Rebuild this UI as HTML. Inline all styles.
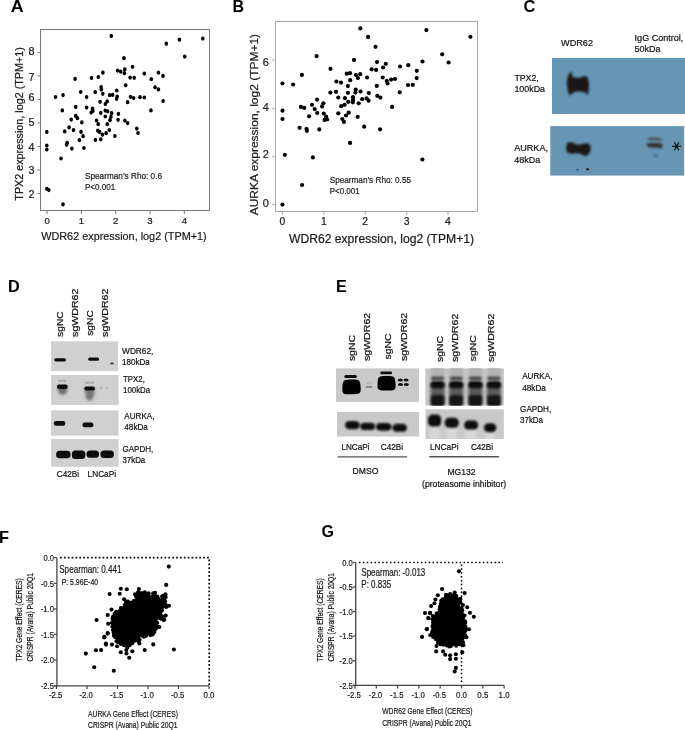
<!DOCTYPE html>
<html><head><meta charset="utf-8"><style>
html,body{margin:0;padding:0;background:#fff;}
svg{display:block;font-family:"Liberation Sans", sans-serif;}
</style></head><body>
<svg width="685" height="730" viewBox="0 0 685 730">
<defs>
<clipPath id="cp1"><rect x="51.1" y="375" width="67.5" height="30"/></clipPath><clipPath id="cp2"><rect x="335.9" y="368.2" width="83.1" height="33.7"/></clipPath><clipPath id="cp3"><rect x="336.9" y="412" width="82.1" height="24.7"/></clipPath><clipPath id="cp4"><rect x="425.2" y="368.3" width="78.7" height="37.4"/></clipPath><clipPath id="cp5"><rect x="425.3" y="409.2" width="78.6" height="29.8"/></clipPath>
<filter id="gs" x="0" y="0" width="100%" height="100%" filterUnits="userSpaceOnUse"><feColorMatrix type="saturate" values="0"/></filter>
<filter id="b1" x="-30%" y="-60%" width="160%" height="220%"><feGaussianBlur stdDeviation="0.6"/></filter>
<filter id="b15" x="-30%" y="-60%" width="160%" height="220%"><feGaussianBlur stdDeviation="0.85"/></filter>
<filter id="b2" x="-30%" y="-30%" width="160%" height="160%"><feGaussianBlur stdDeviation="1.6"/></filter>
</defs>
<rect width="685" height="730" fill="#fff"/>
<rect x="40.5" y="29.5" width="169" height="181" fill="none" stroke="#777" stroke-width="1"/>
<line x1="37.5" y1="193.5" x2="40.5" y2="193.5" stroke="#777" stroke-width="1"/>
<line x1="37.5" y1="170.0" x2="40.5" y2="170.0" stroke="#777" stroke-width="1"/>
<line x1="37.5" y1="146.5" x2="40.5" y2="146.5" stroke="#777" stroke-width="1"/>
<line x1="37.5" y1="122.9" x2="40.5" y2="122.9" stroke="#777" stroke-width="1"/>
<line x1="37.5" y1="99.4" x2="40.5" y2="99.4" stroke="#777" stroke-width="1"/>
<line x1="37.5" y1="75.9" x2="40.5" y2="75.9" stroke="#777" stroke-width="1"/>
<line x1="37.5" y1="52.4" x2="40.5" y2="52.4" stroke="#777" stroke-width="1"/>
<line x1="47.1" y1="210.5" x2="47.1" y2="214" stroke="#777" stroke-width="1"/>
<line x1="81.4" y1="210.5" x2="81.4" y2="214" stroke="#777" stroke-width="1"/>
<line x1="115.7" y1="210.5" x2="115.7" y2="214" stroke="#777" stroke-width="1"/>
<line x1="150.0" y1="210.5" x2="150.0" y2="214" stroke="#777" stroke-width="1"/>
<line x1="184.3" y1="210.5" x2="184.3" y2="214" stroke="#777" stroke-width="1"/>
<ellipse cx="111.3" cy="35.9" rx="1.8" ry="2.1" fill="#000"/>
<ellipse cx="123.9" cy="58.2" rx="1.8" ry="2.1" fill="#000"/>
<ellipse cx="75.1" cy="78.9" rx="1.8" ry="2.1" fill="#000"/>
<ellipse cx="91.5" cy="78.0" rx="1.8" ry="2.1" fill="#000"/>
<ellipse cx="98.3" cy="77.0" rx="1.8" ry="2.1" fill="#000"/>
<ellipse cx="102.9" cy="72.7" rx="1.8" ry="2.1" fill="#000"/>
<ellipse cx="117.6" cy="70.6" rx="1.8" ry="2.1" fill="#000"/>
<ellipse cx="120.7" cy="71.6" rx="1.8" ry="2.1" fill="#000"/>
<ellipse cx="166.3" cy="43.7" rx="1.8" ry="2.1" fill="#000"/>
<ellipse cx="179.4" cy="39.7" rx="1.8" ry="2.1" fill="#000"/>
<ellipse cx="202.8" cy="38.6" rx="1.8" ry="2.1" fill="#000"/>
<ellipse cx="184.7" cy="56.6" rx="1.8" ry="2.1" fill="#000"/>
<ellipse cx="132.5" cy="66.8" rx="1.8" ry="2.1" fill="#000"/>
<ellipse cx="124.8" cy="69.4" rx="1.8" ry="2.1" fill="#000"/>
<ellipse cx="124.4" cy="73.2" rx="1.8" ry="2.1" fill="#000"/>
<ellipse cx="130.1" cy="77.6" rx="1.8" ry="2.1" fill="#000"/>
<ellipse cx="134.2" cy="77.8" rx="1.8" ry="2.1" fill="#000"/>
<ellipse cx="144.3" cy="73.6" rx="1.8" ry="2.1" fill="#000"/>
<ellipse cx="158.4" cy="72.6" rx="1.8" ry="2.1" fill="#000"/>
<ellipse cx="163.0" cy="75.9" rx="1.8" ry="2.1" fill="#000"/>
<ellipse cx="151.3" cy="79.2" rx="1.8" ry="2.1" fill="#000"/>
<ellipse cx="125.7" cy="85.3" rx="1.8" ry="2.1" fill="#000"/>
<ellipse cx="155.1" cy="87.3" rx="1.8" ry="2.1" fill="#000"/>
<ellipse cx="158.4" cy="89.4" rx="1.8" ry="2.1" fill="#000"/>
<ellipse cx="55.5" cy="97.1" rx="1.8" ry="2.1" fill="#000"/>
<ellipse cx="63.0" cy="95.1" rx="1.8" ry="2.1" fill="#000"/>
<ellipse cx="80.7" cy="92.0" rx="1.8" ry="2.1" fill="#000"/>
<ellipse cx="86.6" cy="97.1" rx="1.8" ry="2.1" fill="#000"/>
<ellipse cx="95.2" cy="92.2" rx="1.8" ry="2.1" fill="#000"/>
<ellipse cx="101.1" cy="87.0" rx="1.8" ry="2.1" fill="#000"/>
<ellipse cx="101.3" cy="89.6" rx="1.8" ry="2.1" fill="#000"/>
<ellipse cx="102.8" cy="93.8" rx="1.8" ry="2.1" fill="#000"/>
<ellipse cx="109.6" cy="95.2" rx="1.8" ry="2.1" fill="#000"/>
<ellipse cx="112.6" cy="94.9" rx="1.8" ry="2.1" fill="#000"/>
<ellipse cx="116.8" cy="90.5" rx="1.8" ry="2.1" fill="#000"/>
<ellipse cx="117.2" cy="96.6" rx="1.8" ry="2.1" fill="#000"/>
<ellipse cx="116.6" cy="98.8" rx="1.8" ry="2.1" fill="#000"/>
<ellipse cx="127.6" cy="102.2" rx="1.8" ry="2.1" fill="#000"/>
<ellipse cx="100.1" cy="101.8" rx="1.8" ry="2.1" fill="#000"/>
<ellipse cx="107.2" cy="101.4" rx="1.8" ry="2.1" fill="#000"/>
<ellipse cx="105.3" cy="104.1" rx="1.8" ry="2.1" fill="#000"/>
<ellipse cx="62.3" cy="110.4" rx="1.8" ry="2.1" fill="#000"/>
<ellipse cx="75.7" cy="106.9" rx="1.8" ry="2.1" fill="#000"/>
<ellipse cx="86.6" cy="107.6" rx="1.8" ry="2.1" fill="#000"/>
<ellipse cx="92.5" cy="108.7" rx="1.8" ry="2.1" fill="#000"/>
<ellipse cx="92.9" cy="110.9" rx="1.8" ry="2.1" fill="#000"/>
<ellipse cx="91.2" cy="112.6" rx="1.8" ry="2.1" fill="#000"/>
<ellipse cx="100.8" cy="112.9" rx="1.8" ry="2.1" fill="#000"/>
<ellipse cx="105.3" cy="110.6" rx="1.8" ry="2.1" fill="#000"/>
<ellipse cx="107.6" cy="111.3" rx="1.8" ry="2.1" fill="#000"/>
<ellipse cx="111.6" cy="113.2" rx="1.8" ry="2.1" fill="#000"/>
<ellipse cx="105.3" cy="116.5" rx="1.8" ry="2.1" fill="#000"/>
<ellipse cx="110.9" cy="116.9" rx="1.8" ry="2.1" fill="#000"/>
<ellipse cx="118.4" cy="113.9" rx="1.8" ry="2.1" fill="#000"/>
<ellipse cx="118.1" cy="119.8" rx="1.8" ry="2.1" fill="#000"/>
<ellipse cx="124.8" cy="120.6" rx="1.8" ry="2.1" fill="#000"/>
<ellipse cx="127.6" cy="123.1" rx="1.8" ry="2.1" fill="#000"/>
<ellipse cx="71.2" cy="119.6" rx="1.8" ry="2.1" fill="#000"/>
<ellipse cx="75.7" cy="115.9" rx="1.8" ry="2.1" fill="#000"/>
<ellipse cx="77.4" cy="118.2" rx="1.8" ry="2.1" fill="#000"/>
<ellipse cx="81.8" cy="122.4" rx="1.8" ry="2.1" fill="#000"/>
<ellipse cx="96.5" cy="120.5" rx="1.8" ry="2.1" fill="#000"/>
<ellipse cx="98.2" cy="124.2" rx="1.8" ry="2.1" fill="#000"/>
<ellipse cx="110.0" cy="120.2" rx="1.8" ry="2.1" fill="#000"/>
<ellipse cx="107.2" cy="124.2" rx="1.8" ry="2.1" fill="#000"/>
<ellipse cx="69.1" cy="127.4" rx="1.8" ry="2.1" fill="#000"/>
<ellipse cx="73.5" cy="130.1" rx="1.8" ry="2.1" fill="#000"/>
<ellipse cx="64.7" cy="131.4" rx="1.8" ry="2.1" fill="#000"/>
<ellipse cx="46.8" cy="131.9" rx="1.8" ry="2.1" fill="#000"/>
<ellipse cx="81.0" cy="131.9" rx="1.8" ry="2.1" fill="#000"/>
<ellipse cx="83.1" cy="136.2" rx="1.8" ry="2.1" fill="#000"/>
<ellipse cx="79.4" cy="140.2" rx="1.8" ry="2.1" fill="#000"/>
<ellipse cx="97.8" cy="130.7" rx="1.8" ry="2.1" fill="#000"/>
<ellipse cx="99.5" cy="131.9" rx="1.8" ry="2.1" fill="#000"/>
<ellipse cx="102.4" cy="134.7" rx="1.8" ry="2.1" fill="#000"/>
<ellipse cx="106.1" cy="133.2" rx="1.8" ry="2.1" fill="#000"/>
<ellipse cx="109.3" cy="130.1" rx="1.8" ry="2.1" fill="#000"/>
<ellipse cx="114.9" cy="136.0" rx="1.8" ry="2.1" fill="#000"/>
<ellipse cx="95.4" cy="139.9" rx="1.8" ry="2.1" fill="#000"/>
<ellipse cx="100.8" cy="139.3" rx="1.8" ry="2.1" fill="#000"/>
<ellipse cx="67.2" cy="142.8" rx="1.8" ry="2.1" fill="#000"/>
<ellipse cx="66.6" cy="144.8" rx="1.8" ry="2.1" fill="#000"/>
<ellipse cx="46.8" cy="145.5" rx="1.8" ry="2.1" fill="#000"/>
<ellipse cx="46.8" cy="149.5" rx="1.8" ry="2.1" fill="#000"/>
<ellipse cx="71.9" cy="148.6" rx="1.8" ry="2.1" fill="#000"/>
<ellipse cx="83.9" cy="148.0" rx="1.8" ry="2.1" fill="#000"/>
<ellipse cx="130.5" cy="96.8" rx="1.8" ry="2.1" fill="#000"/>
<ellipse cx="133.6" cy="98.1" rx="1.8" ry="2.1" fill="#000"/>
<ellipse cx="140.0" cy="97.2" rx="1.8" ry="2.1" fill="#000"/>
<ellipse cx="144.3" cy="97.5" rx="1.8" ry="2.1" fill="#000"/>
<ellipse cx="163.1" cy="101.0" rx="1.8" ry="2.1" fill="#000"/>
<ellipse cx="150.9" cy="110.4" rx="1.8" ry="2.1" fill="#000"/>
<ellipse cx="136.8" cy="128.6" rx="1.8" ry="2.1" fill="#000"/>
<ellipse cx="138.0" cy="133.0" rx="1.8" ry="2.1" fill="#000"/>
<ellipse cx="61.0" cy="158.5" rx="1.8" ry="2.1" fill="#000"/>
<ellipse cx="46.8" cy="188.8" rx="1.8" ry="2.1" fill="#000"/>
<ellipse cx="48.8" cy="190.1" rx="1.8" ry="2.1" fill="#000"/>
<ellipse cx="63.0" cy="204.4" rx="1.8" ry="2.1" fill="#000"/>
<rect x="275.5" y="21.5" width="202" height="190" fill="none" stroke="#aaa" stroke-width="1"/>
<line x1="272" y1="204.4" x2="275.5" y2="204.4" stroke="#aaa" stroke-width="1"/>
<line x1="272" y1="156.3" x2="275.5" y2="156.3" stroke="#aaa" stroke-width="1"/>
<line x1="272" y1="108.2" x2="275.5" y2="108.2" stroke="#aaa" stroke-width="1"/>
<line x1="272" y1="60.1" x2="275.5" y2="60.1" stroke="#aaa" stroke-width="1"/>
<line x1="282.4" y1="211.5" x2="282.4" y2="215" stroke="#aaa" stroke-width="1"/>
<line x1="323.8" y1="211.5" x2="323.8" y2="215" stroke="#aaa" stroke-width="1"/>
<line x1="365.2" y1="211.5" x2="365.2" y2="215" stroke="#aaa" stroke-width="1"/>
<line x1="406.6" y1="211.5" x2="406.6" y2="215" stroke="#aaa" stroke-width="1"/>
<line x1="448.0" y1="211.5" x2="448.0" y2="215" stroke="#aaa" stroke-width="1"/>
<circle cx="316.6" cy="56.1" r="2.1" fill="#000"/>
<circle cx="330.5" cy="68.8" r="2.1" fill="#000"/>
<circle cx="301.9" cy="74.9" r="2.1" fill="#000"/>
<circle cx="282.5" cy="83.5" r="2.1" fill="#000"/>
<circle cx="293.1" cy="84.5" r="2.1" fill="#000"/>
<circle cx="336.4" cy="81.5" r="2.1" fill="#000"/>
<circle cx="341.0" cy="82.6" r="2.1" fill="#000"/>
<circle cx="360.3" cy="28.4" r="2.1" fill="#000"/>
<circle cx="368.1" cy="36.9" r="2.1" fill="#000"/>
<circle cx="375.5" cy="46.8" r="2.1" fill="#000"/>
<circle cx="354.0" cy="59.9" r="2.1" fill="#000"/>
<circle cx="377.0" cy="62.1" r="2.1" fill="#000"/>
<circle cx="385.8" cy="63.8" r="2.1" fill="#000"/>
<circle cx="383.1" cy="67.5" r="2.1" fill="#000"/>
<circle cx="400.0" cy="66.5" r="2.1" fill="#000"/>
<circle cx="408.3" cy="65.2" r="2.1" fill="#000"/>
<circle cx="371.7" cy="69.3" r="2.1" fill="#000"/>
<circle cx="376.1" cy="69.9" r="2.1" fill="#000"/>
<circle cx="346.7" cy="73.7" r="2.1" fill="#000"/>
<circle cx="350.0" cy="73.2" r="2.1" fill="#000"/>
<circle cx="355.9" cy="75.0" r="2.1" fill="#000"/>
<circle cx="360.2" cy="74.2" r="2.1" fill="#000"/>
<circle cx="357.9" cy="78.0" r="2.1" fill="#000"/>
<circle cx="367.1" cy="77.5" r="2.1" fill="#000"/>
<circle cx="350.2" cy="80.2" r="2.1" fill="#000"/>
<circle cx="382.7" cy="77.5" r="2.1" fill="#000"/>
<circle cx="386.8" cy="80.8" r="2.1" fill="#000"/>
<circle cx="391.1" cy="79.6" r="2.1" fill="#000"/>
<circle cx="395.0" cy="79.0" r="2.1" fill="#000"/>
<circle cx="387.6" cy="83.5" r="2.1" fill="#000"/>
<circle cx="426.4" cy="30.1" r="2.1" fill="#000"/>
<circle cx="470.4" cy="36.8" r="2.1" fill="#000"/>
<circle cx="442.2" cy="54.3" r="2.1" fill="#000"/>
<circle cx="448.6" cy="62.5" r="2.1" fill="#000"/>
<circle cx="422.5" cy="61.5" r="2.1" fill="#000"/>
<circle cx="416.8" cy="70.8" r="2.1" fill="#000"/>
<circle cx="416.7" cy="78.1" r="2.1" fill="#000"/>
<circle cx="408.0" cy="85.0" r="2.1" fill="#000"/>
<circle cx="412.8" cy="84.8" r="2.1" fill="#000"/>
<circle cx="330.4" cy="92.6" r="2.1" fill="#000"/>
<circle cx="336.0" cy="91.8" r="2.1" fill="#000"/>
<circle cx="338.3" cy="97.5" r="2.1" fill="#000"/>
<circle cx="317.1" cy="99.6" r="2.1" fill="#000"/>
<circle cx="312.0" cy="104.8" r="2.1" fill="#000"/>
<circle cx="323.4" cy="103.3" r="2.1" fill="#000"/>
<circle cx="322.1" cy="106.4" r="2.1" fill="#000"/>
<circle cx="300.9" cy="106.9" r="2.1" fill="#000"/>
<circle cx="304.2" cy="107.9" r="2.1" fill="#000"/>
<circle cx="314.7" cy="109.1" r="2.1" fill="#000"/>
<circle cx="282.5" cy="110.7" r="2.1" fill="#000"/>
<circle cx="317.2" cy="113.0" r="2.1" fill="#000"/>
<circle cx="323.8" cy="113.5" r="2.1" fill="#000"/>
<circle cx="326.1" cy="116.5" r="2.1" fill="#000"/>
<circle cx="324.6" cy="119.9" r="2.1" fill="#000"/>
<circle cx="327.2" cy="119.5" r="2.1" fill="#000"/>
<circle cx="338.3" cy="113.3" r="2.1" fill="#000"/>
<circle cx="341.2" cy="106.2" r="2.1" fill="#000"/>
<circle cx="342.3" cy="119.0" r="2.1" fill="#000"/>
<circle cx="282.5" cy="119.0" r="2.1" fill="#000"/>
<circle cx="309.1" cy="116.3" r="2.1" fill="#000"/>
<circle cx="299.6" cy="127.8" r="2.1" fill="#000"/>
<circle cx="306.5" cy="128.8" r="2.1" fill="#000"/>
<circle cx="306.9" cy="130.8" r="2.1" fill="#000"/>
<circle cx="319.3" cy="129.4" r="2.1" fill="#000"/>
<circle cx="347.9" cy="86.1" r="2.1" fill="#000"/>
<circle cx="376.8" cy="85.9" r="2.1" fill="#000"/>
<circle cx="355.7" cy="89.5" r="2.1" fill="#000"/>
<circle cx="355.4" cy="92.6" r="2.1" fill="#000"/>
<circle cx="360.5" cy="91.5" r="2.1" fill="#000"/>
<circle cx="347.9" cy="92.8" r="2.1" fill="#000"/>
<circle cx="368.8" cy="93.0" r="2.1" fill="#000"/>
<circle cx="399.8" cy="92.3" r="2.1" fill="#000"/>
<circle cx="344.9" cy="98.2" r="2.1" fill="#000"/>
<circle cx="353.0" cy="97.2" r="2.1" fill="#000"/>
<circle cx="353.0" cy="100.2" r="2.1" fill="#000"/>
<circle cx="352.8" cy="102.3" r="2.1" fill="#000"/>
<circle cx="348.2" cy="101.8" r="2.1" fill="#000"/>
<circle cx="358.7" cy="103.3" r="2.1" fill="#000"/>
<circle cx="362.2" cy="99.2" r="2.1" fill="#000"/>
<circle cx="366.6" cy="98.4" r="2.1" fill="#000"/>
<circle cx="368.6" cy="100.7" r="2.1" fill="#000"/>
<circle cx="377.3" cy="95.8" r="2.1" fill="#000"/>
<circle cx="380.4" cy="97.6" r="2.1" fill="#000"/>
<circle cx="392.1" cy="106.9" r="2.1" fill="#000"/>
<circle cx="344.6" cy="104.8" r="2.1" fill="#000"/>
<circle cx="348.7" cy="112.7" r="2.1" fill="#000"/>
<circle cx="346.0" cy="115.5" r="2.1" fill="#000"/>
<circle cx="343.9" cy="121.9" r="2.1" fill="#000"/>
<circle cx="357.7" cy="116.8" r="2.1" fill="#000"/>
<circle cx="364.2" cy="126.7" r="2.1" fill="#000"/>
<circle cx="380.1" cy="129.3" r="2.1" fill="#000"/>
<circle cx="350.1" cy="142.9" r="2.1" fill="#000"/>
<circle cx="284.8" cy="154.8" r="2.1" fill="#000"/>
<circle cx="312.9" cy="157.4" r="2.1" fill="#000"/>
<circle cx="302.1" cy="185.0" r="2.1" fill="#000"/>
<circle cx="282.5" cy="204.6" r="2.1" fill="#000"/>
<circle cx="422.4" cy="159.5" r="2.1" fill="#000"/>
<rect x="552" y="57.9" width="133" height="56.1" fill="#6696b4"/>
<rect x="550.3" y="126.1" width="133.9" height="49.5" fill="#6696b4"/>
<path d="M571.50,72.00 C571.93,72.60 571.60,75.62 572.60,76.60 C573.60,77.58 575.85,77.83 577.50,77.90 C579.15,77.97 581.35,77.42 582.50,77.00 C583.65,76.58 583.92,75.48 584.40,75.40 C584.88,75.32 584.83,76.13 585.40,76.50 C585.97,76.87 587.22,76.40 587.80,77.60 C588.38,78.80 588.80,81.30 588.90,83.70 C589.00,86.10 588.65,90.18 588.40,92.00 C588.15,93.82 588.05,94.55 587.40,94.60 C586.75,94.65 585.85,92.80 584.50,92.30 C583.15,91.80 580.95,91.65 579.30,91.60 C577.65,91.55 576.22,91.43 574.60,92.00 C572.98,92.57 570.70,95.22 569.60,95.00 C568.50,94.78 568.43,92.58 568.00,90.70 C567.57,88.82 567.03,86.02 567.00,83.70 C566.97,81.38 567.30,78.58 567.80,76.80 C568.30,75.02 569.38,73.80 570.00,73.00 C570.62,72.20 571.07,71.40 571.50,72.00 Z" fill="#1c1917" filter="url(#b15)"/>
<line x1="569.8" y1="94" x2="569.8" y2="97.5" stroke="#3a5a70" stroke-width="0.6" opacity="0.6"/>
<line x1="587.2" y1="94" x2="587.2" y2="97" stroke="#3a5a70" stroke-width="0.6" opacity="0.6"/>
<path d="M568.80,142.30 C569.55,142.10 570.25,142.22 571.70,142.60 C573.15,142.98 575.55,144.40 577.50,144.60 C579.45,144.80 581.65,143.98 583.40,143.80 C585.15,143.62 586.80,143.02 588.00,143.50 C589.20,143.98 590.22,145.48 590.60,146.70 C590.98,147.92 590.63,149.53 590.30,150.80 C589.97,152.07 589.37,153.45 588.60,154.30 C587.83,155.15 586.57,155.77 585.70,155.90 C584.83,156.03 584.77,155.55 583.40,155.10 C582.03,154.65 579.45,153.43 577.50,153.20 C575.55,152.97 573.15,153.72 571.70,153.70 C570.25,153.68 569.67,153.58 568.80,153.10 C567.93,152.62 566.90,151.77 566.50,150.80 C566.10,149.83 566.28,148.47 566.40,147.30 C566.52,146.13 566.80,144.63 567.20,143.80 C567.60,142.97 568.05,142.50 568.80,142.30 Z" fill="#1c1917" filter="url(#b15)"/>
<ellipse cx="577.5" cy="169.9" rx="1.1" ry="0.8" fill="#2e4d63" filter="url(#b1)"/>
<ellipse cx="587.7" cy="169.2" rx="1.6" ry="1.3" fill="#3a2a25" filter="url(#b1)"/>
<path d="M648,138.0 Q655,137.0 662,139.0 L661.5,140.4 Q655,139.8 648.3,140.2 Z" fill="#4a3f3f" filter="url(#b15)"/>
<path d="M647,143.2 Q655,142.4 662.2,143.4 L662.8,147.5 Q660,148.8 656,147.6 Q651,147.8 647.2,147.0 Z" fill="#3a3232" filter="url(#b15)"/>
<ellipse cx="655.8" cy="155.6" rx="2.6" ry="1.5" fill="#4f7189" filter="url(#b15)"/>
<path d="M676.60,146.30 L680.70,146.30 M676.60,146.30 L678.65,149.85 M676.60,146.30 L674.55,149.85 M676.60,146.30 L672.50,146.30 M676.60,146.30 L674.55,142.75 M676.60,146.30 L678.65,142.75" stroke="#151515" stroke-width="1.25" stroke-linecap="round" fill="none"/>
<rect x="51.1" y="341.4" width="66.9" height="29.8" fill="#d0d0d0"/>
<rect x="51.1" y="375" width="67.5" height="30" fill="#d0d0d0"/>
<rect x="51.1" y="410.3" width="67.5" height="25.3" fill="#d0d0d0"/>
<rect x="51.1" y="439.1" width="67.5" height="27.7" fill="#d0d0d0"/>
<rect x="54.3" y="358.3" width="11.7" height="3.2" rx="1.5" fill="#111" filter="url(#b1)"/>
<rect x="88.2" y="357.6" width="10.8" height="3.2" rx="1.5" fill="#111" filter="url(#b1)"/>
<ellipse cx="112" cy="363.5" rx="2" ry="1" fill="#444" filter="url(#b1)"/>
<g clip-path="url(#cp1)">
<rect x="58" y="379.8" width="8" height="1.8" fill="#a8a8a8" filter="url(#b1)"/>
<path d="M57.5,386 L67.4,386 L66.5,393 L63,395 L59,393.5 Z" fill="#6a6a6a" filter="url(#b2)"/>
<rect x="57" y="384.6" width="10.6" height="4.4" rx="2" fill="#101010" filter="url(#b1)"/>
<rect x="85" y="381.8" width="9" height="1.8" fill="#aaa" filter="url(#b1)"/>
<path d="M84.5,388 L95,388 L94,396 L91,401 L86,399 Z" fill="#777" filter="url(#b2)"/>
<rect x="84.2" y="386.4" width="10.8" height="4.2" rx="2" fill="#101010" filter="url(#b1)"/>
<ellipse cx="101.1" cy="387.9" rx="1.2" ry="0.8" fill="#aaa" filter="url(#b1)"/>
<ellipse cx="106.7" cy="387.9" rx="1.2" ry="0.8" fill="#aaa" filter="url(#b1)"/>
</g>
<rect x="53.8" y="421" width="11.6" height="4.7" rx="2.3" fill="#0d0d0d" filter="url(#b1)"/>
<rect x="82.4" y="422.6" width="11.1" height="4.6" rx="2.3" fill="#0d0d0d" filter="url(#b1)"/>
<rect x="56.1" y="450.8" width="14.4" height="7.4" rx="3.5" fill="#0a0a0a" filter="url(#b1)"/>
<rect x="71.9" y="450.5" width="13.4" height="8.5" rx="3.5" fill="#0a0a0a" filter="url(#b1)"/>
<rect x="86.5" y="450.5" width="12.5" height="7.3" rx="3.5" fill="#0a0a0a" filter="url(#b1)"/>
<rect x="100.5" y="450.5" width="13.4" height="7.5" rx="3.5" fill="#0a0a0a" filter="url(#b1)"/>
<g clip-path="url(#cp2)">
<rect x="335.9" y="368.2" width="83.1" height="33.7" fill="#c9c9c9"/>
<rect x="344.3" y="374.9" width="12.6" height="3.1" rx="1.5" fill="#111" filter="url(#b1)"/>
<path d="M344.20,380.60 C345.72,379.33 349.07,379.43 351.50,379.40 C353.93,379.37 357.28,379.22 358.80,380.40 C360.32,381.58 360.47,384.40 360.60,386.50 C360.73,388.60 361.12,391.70 359.60,393.00 C358.08,394.30 354.17,394.23 351.50,394.30 C348.83,394.37 345.12,394.62 343.60,393.40 C342.08,392.18 342.30,389.13 342.40,387.00 C342.50,384.87 342.68,381.87 344.20,380.60 Z" fill="#050505" filter="url(#b1)"/>
<rect x="365.5" y="386.1" width="7" height="2" rx="1" fill="#8a8a8a" filter="url(#b1)"/>
<rect x="366.5" y="382.4" width="5" height="1.1" rx="0.5" fill="#aaa" filter="url(#b1)"/>
<rect x="380.2" y="371.5" width="11.9" height="2.8" rx="1.4" fill="#111" filter="url(#b1)"/>
<path d="M379.20,376.90 C380.68,375.72 384.07,375.90 386.50,375.90 C388.93,375.90 392.32,375.72 393.80,376.90 C395.28,378.08 395.27,380.88 395.40,383.00 C395.53,385.12 396.08,388.33 394.60,389.60 C393.12,390.87 389.17,390.60 386.50,390.60 C383.83,390.60 380.08,390.87 378.60,389.60 C377.12,388.33 377.50,385.12 377.60,383.00 C377.70,380.88 377.72,378.08 379.20,376.90 Z" fill="#050505" filter="url(#b1)"/>
<ellipse cx="400.3" cy="380.1" rx="2.6" ry="1.5" fill="#151515" filter="url(#b1)"/>
<ellipse cx="406.0" cy="380.1" rx="2.6" ry="1.5" fill="#151515" filter="url(#b1)"/>
<ellipse cx="400.5" cy="384.6" rx="2.6" ry="1.5" fill="#151515" filter="url(#b1)"/>
<ellipse cx="406.3" cy="384.6" rx="2.6" ry="1.5" fill="#151515" filter="url(#b1)"/>
</g>
<g clip-path="url(#cp3)">
<rect x="336.9" y="412" width="82.1" height="24.7" fill="#c9c9c9"/>
<rect x="345" y="421" width="14.8" height="8.3" rx="4.5" fill="#0a0a0a" filter="url(#b15)"/>
<rect x="360.2" y="422.8" width="14.9" height="7.2" rx="4.5" fill="#0a0a0a" filter="url(#b15)"/>
<rect x="375.8" y="423.1" width="15.9" height="7.6" rx="4.5" fill="#0a0a0a" filter="url(#b15)"/>
<rect x="392.4" y="423.8" width="14.6" height="8.0" rx="4.5" fill="#0a0a0a" filter="url(#b15)"/>
</g>
<g clip-path="url(#cp4)">
<rect x="425.2" y="368.3" width="78.7" height="37.4" fill="#c6c6c6"/>
<rect x="431.1" y="364" width="13" height="14" fill="#b2b2b2" filter="url(#b2)"/>
<rect x="430.6" y="384" width="14" height="14" fill="#5a5a5a" filter="url(#b2)"/>
<rect x="431.1" y="376.6" width="13" height="3.6" rx="1.5" fill="#4a4a4a" filter="url(#b15)"/>
<rect x="430.4" y="381.0" width="14.4" height="7.2" rx="3.5" fill="#0c0c0c" filter="url(#b15)"/>
<rect x="430.4" y="395.0" width="14.4" height="12" rx="4" fill="#141414" filter="url(#b15)"/>
<rect x="449.7" y="364" width="13" height="14" fill="#b2b2b2" filter="url(#b2)"/>
<rect x="449.2" y="384" width="14" height="14" fill="#5a5a5a" filter="url(#b2)"/>
<rect x="449.7" y="376.6" width="13" height="3.6" rx="1.5" fill="#4a4a4a" filter="url(#b15)"/>
<rect x="449.0" y="381.0" width="14.4" height="7.2" rx="3.5" fill="#0c0c0c" filter="url(#b15)"/>
<rect x="449.0" y="395.0" width="14.4" height="12" rx="4" fill="#141414" filter="url(#b15)"/>
<rect x="468.9" y="364" width="13" height="14" fill="#b2b2b2" filter="url(#b2)"/>
<rect x="468.4" y="384" width="14" height="14" fill="#5a5a5a" filter="url(#b2)"/>
<rect x="468.9" y="376.6" width="13" height="3.6" rx="1.5" fill="#4a4a4a" filter="url(#b15)"/>
<rect x="468.2" y="381.0" width="14.4" height="7.2" rx="3.5" fill="#0c0c0c" filter="url(#b15)"/>
<rect x="468.2" y="395.0" width="14.4" height="12" rx="4" fill="#141414" filter="url(#b15)"/>
<rect x="487.4" y="364" width="13" height="14" fill="#b2b2b2" filter="url(#b2)"/>
<rect x="486.9" y="384" width="14" height="14" fill="#5a5a5a" filter="url(#b2)"/>
<rect x="487.4" y="376.6" width="13" height="3.6" rx="1.5" fill="#4a4a4a" filter="url(#b15)"/>
<rect x="486.7" y="381.0" width="14.4" height="7.2" rx="3.5" fill="#0c0c0c" filter="url(#b15)"/>
<rect x="486.7" y="395.0" width="14.4" height="12" rx="4" fill="#141414" filter="url(#b15)"/>
</g>
<g clip-path="url(#cp5)">
<rect x="425.3" y="409.2" width="78.6" height="29.8" fill="#c8c8c8"/>
<rect x="429.5" y="425.5" width="10.2" height="14" fill="#d8d8d8" filter="url(#b2)"/>
<rect x="428.0" y="414.6" width="13.2" height="11.9" rx="4.5" fill="#0e0e0e" filter="url(#b15)"/>
<rect x="446.3" y="426.8" width="11.0" height="14" fill="#d8d8d8" filter="url(#b2)"/>
<rect x="444.8" y="417.8" width="14.0" height="10.0" rx="4.5" fill="#0e0e0e" filter="url(#b15)"/>
<rect x="465.6" y="428.6" width="11.1" height="14" fill="#d8d8d8" filter="url(#b2)"/>
<rect x="464.1" y="420.4" width="14.1" height="9.2" rx="4.5" fill="#0e0e0e" filter="url(#b15)"/>
<rect x="485.5" y="431.2" width="9.3" height="14" fill="#d8d8d8" filter="url(#b2)"/>
<rect x="484.0" y="423.2" width="12.3" height="9.0" rx="4.5" fill="#0e0e0e" filter="url(#b15)"/>
</g>
<line x1="337.6" y1="456.9" x2="407.1" y2="456.9" stroke="#555" stroke-width="1.4"/>
<line x1="429.2" y1="456.7" x2="498.9" y2="456.7" stroke="#555" stroke-width="1.4"/>
<line x1="56.9" y1="557.7" x2="56.9" y2="686.4" stroke="#444" stroke-width="1.3"/>
<line x1="53.8" y1="685.8" x2="209.2" y2="685.8" stroke="#444" stroke-width="1.3"/>
<line x1="60" y1="557.7" x2="209.2" y2="557.7" stroke="#000" stroke-width="1.7" stroke-dasharray="1.7 2.17"/>
<line x1="209.2" y1="559.6" x2="209.2" y2="685" stroke="#000" stroke-width="1.7" stroke-dasharray="1.7 2.17"/>
<line x1="54" y1="557.7" x2="56.9" y2="557.7" stroke="#444" stroke-width="1.2"/>
<line x1="54" y1="583.3" x2="56.9" y2="583.3" stroke="#444" stroke-width="1.2"/>
<line x1="54" y1="608.9" x2="56.9" y2="608.9" stroke="#444" stroke-width="1.2"/>
<line x1="54" y1="634.4" x2="56.9" y2="634.4" stroke="#444" stroke-width="1.2"/>
<line x1="54" y1="660.0" x2="56.9" y2="660.0" stroke="#444" stroke-width="1.2"/>
<line x1="54" y1="685.6" x2="56.9" y2="685.6" stroke="#444" stroke-width="1.2"/>
<line x1="56.5" y1="685.8" x2="56.5" y2="689" stroke="#444" stroke-width="1.2"/>
<line x1="87.0" y1="685.8" x2="87.0" y2="689" stroke="#444" stroke-width="1.2"/>
<line x1="117.5" y1="685.8" x2="117.5" y2="689" stroke="#444" stroke-width="1.2"/>
<line x1="148.0" y1="685.8" x2="148.0" y2="689" stroke="#444" stroke-width="1.2"/>
<line x1="178.5" y1="685.8" x2="178.5" y2="689" stroke="#444" stroke-width="1.2"/>
<line x1="209.0" y1="685.8" x2="209.0" y2="689" stroke="#444" stroke-width="1.2"/>
<path d="M112.5,617.1 L115.8,612.0 L119.0,608.9 L123.9,607.5 L124.7,601.8 L127.9,602.0 L131.7,603.2 L133.5,601.7 L135.5,597.9 L137.4,593.6 L139.0,590.6 L141.1,594.7 L144.6,592.0 L147.7,592.5 L150.8,595.6 L154.5,592.4 L157.0,595.4 L158.5,600.7 L161.2,597.4 L163.8,595.5 L165.3,604.2 L167.0,606.2 L163.1,608.9 L159.2,613.0 L162.9,615.9 L161.9,619.3 L157.5,618.0 L157.2,625.2 L155.8,630.4 L152.8,634.0 L147.7,635.4 L143.6,637.0 L140.0,637.5 L139.5,642.0 L134.3,639.7 L132.3,643.1 L127.6,647.5 L122.7,644.3 L118.5,643.3 L115.4,638.6 L113.3,633.8 L112.4,627.6 L112.0,621.3 Z" fill="#000"/>
<circle cx="113.0" cy="616.7" r="2.05" fill="#000"/>
<circle cx="114.6" cy="613.9" r="2.05" fill="#000"/>
<circle cx="116.2" cy="611.8" r="2.05" fill="#000"/>
<circle cx="121.0" cy="608.1" r="2.05" fill="#000"/>
<circle cx="124.1" cy="607.5" r="2.05" fill="#000"/>
<circle cx="124.7" cy="605.0" r="2.05" fill="#000"/>
<circle cx="126.1" cy="601.6" r="2.05" fill="#000"/>
<circle cx="128.0" cy="601.6" r="2.05" fill="#000"/>
<circle cx="131.7" cy="602.6" r="2.05" fill="#000"/>
<circle cx="134.0" cy="600.9" r="2.05" fill="#000"/>
<circle cx="136.2" cy="596.6" r="2.05" fill="#000"/>
<circle cx="138.0" cy="592.2" r="2.05" fill="#000"/>
<circle cx="140.6" cy="593.3" r="2.05" fill="#000"/>
<circle cx="142.4" cy="593.3" r="2.05" fill="#000"/>
<circle cx="144.8" cy="592.3" r="2.05" fill="#000"/>
<circle cx="148.7" cy="593.2" r="2.05" fill="#000"/>
<circle cx="153.2" cy="593.4" r="2.05" fill="#000"/>
<circle cx="155.1" cy="592.7" r="2.05" fill="#000"/>
<circle cx="157.3" cy="596.6" r="2.05" fill="#000"/>
<circle cx="158.2" cy="598.9" r="2.05" fill="#000"/>
<circle cx="158.5" cy="600.9" r="2.05" fill="#000"/>
<circle cx="162.1" cy="596.4" r="2.05" fill="#000"/>
<circle cx="163.5" cy="595.9" r="2.05" fill="#000"/>
<circle cx="164.4" cy="598.7" r="2.05" fill="#000"/>
<circle cx="165.1" cy="601.3" r="2.05" fill="#000"/>
<circle cx="165.7" cy="604.9" r="2.05" fill="#000"/>
<circle cx="166.3" cy="606.9" r="2.05" fill="#000"/>
<circle cx="162.0" cy="610.2" r="2.05" fill="#000"/>
<circle cx="160.8" cy="611.5" r="2.05" fill="#000"/>
<circle cx="160.3" cy="614.5" r="2.05" fill="#000"/>
<circle cx="162.6" cy="616.6" r="2.05" fill="#000"/>
<circle cx="160.9" cy="618.7" r="2.05" fill="#000"/>
<circle cx="157.6" cy="618.0" r="2.05" fill="#000"/>
<circle cx="157.2" cy="622.9" r="2.05" fill="#000"/>
<circle cx="156.8" cy="626.7" r="2.05" fill="#000"/>
<circle cx="155.9" cy="628.8" r="2.05" fill="#000"/>
<circle cx="154.4" cy="632.1" r="2.05" fill="#000"/>
<circle cx="152.7" cy="634.4" r="2.05" fill="#000"/>
<circle cx="150.3" cy="635.1" r="2.05" fill="#000"/>
<circle cx="146.1" cy="635.7" r="2.05" fill="#000"/>
<circle cx="143.9" cy="636.8" r="2.05" fill="#000"/>
<circle cx="139.6" cy="639.7" r="2.05" fill="#000"/>
<circle cx="138.4" cy="641.3" r="2.05" fill="#000"/>
<circle cx="135.4" cy="640.2" r="2.05" fill="#000"/>
<circle cx="133.9" cy="641.0" r="2.05" fill="#000"/>
<circle cx="132.2" cy="643.2" r="2.05" fill="#000"/>
<circle cx="129.7" cy="645.3" r="2.05" fill="#000"/>
<circle cx="127.2" cy="647.4" r="2.05" fill="#000"/>
<circle cx="124.0" cy="645.3" r="2.05" fill="#000"/>
<circle cx="120.8" cy="643.9" r="2.05" fill="#000"/>
<circle cx="117.9" cy="642.1" r="2.05" fill="#000"/>
<circle cx="116.5" cy="641.3" r="2.05" fill="#000"/>
<circle cx="115.3" cy="637.2" r="2.05" fill="#000"/>
<circle cx="113.9" cy="635.5" r="2.05" fill="#000"/>
<circle cx="113.6" cy="632.9" r="2.05" fill="#000"/>
<circle cx="112.9" cy="630.0" r="2.05" fill="#000"/>
<circle cx="112.4" cy="626.4" r="2.05" fill="#000"/>
<circle cx="111.9" cy="622.8" r="2.05" fill="#000"/>
<circle cx="112.5" cy="618.9" r="2.05" fill="#000"/>
<circle cx="109.6" cy="594.0" r="2.05" fill="#000"/>
<circle cx="120.8" cy="588.8" r="2.05" fill="#000"/>
<circle cx="119.7" cy="593.7" r="2.05" fill="#000"/>
<circle cx="126.8" cy="589.3" r="2.05" fill="#000"/>
<circle cx="138.9" cy="589.0" r="2.05" fill="#000"/>
<circle cx="166.2" cy="584.9" r="2.05" fill="#000"/>
<circle cx="165.4" cy="594.2" r="2.05" fill="#000"/>
<circle cx="165.7" cy="597.0" r="2.05" fill="#000"/>
<circle cx="169.0" cy="605.7" r="2.05" fill="#000"/>
<circle cx="165.7" cy="615.6" r="2.05" fill="#000"/>
<circle cx="164.1" cy="619.4" r="2.05" fill="#000"/>
<circle cx="111.5" cy="609.6" r="2.05" fill="#000"/>
<circle cx="107.7" cy="615.0" r="2.05" fill="#000"/>
<circle cx="108.2" cy="623.8" r="2.05" fill="#000"/>
<circle cx="107.7" cy="633.6" r="2.05" fill="#000"/>
<circle cx="104.4" cy="636.9" r="2.05" fill="#000"/>
<circle cx="106.0" cy="644.6" r="2.05" fill="#000"/>
<circle cx="112.0" cy="644.6" r="2.05" fill="#000"/>
<circle cx="117.0" cy="646.2" r="2.05" fill="#000"/>
<circle cx="101.1" cy="650.1" r="2.05" fill="#000"/>
<circle cx="120.8" cy="652.3" r="2.05" fill="#000"/>
<circle cx="126.3" cy="650.1" r="2.05" fill="#000"/>
<circle cx="132.3" cy="651.2" r="2.05" fill="#000"/>
<circle cx="139.4" cy="643.5" r="2.05" fill="#000"/>
<circle cx="144.7" cy="650.1" r="2.05" fill="#000"/>
<circle cx="153.3" cy="644.4" r="2.05" fill="#000"/>
<circle cx="173.9" cy="649.5" r="2.05" fill="#000"/>
<circle cx="124.1" cy="599.2" r="2.05" fill="#000"/>
<circle cx="135.0" cy="594.2" r="2.05" fill="#000"/>
<circle cx="168.8" cy="566.6" r="2.05" fill="#000"/>
<circle cx="85.8" cy="653.6" r="2.05" fill="#000"/>
<circle cx="95.9" cy="650.3" r="2.05" fill="#000"/>
<circle cx="94.2" cy="667.3" r="2.05" fill="#000"/>
<circle cx="113.8" cy="670.8" r="2.05" fill="#000"/>
<circle cx="129.2" cy="657.7" r="2.05" fill="#000"/>
<circle cx="126.5" cy="653.5" r="2.05" fill="#000"/>
<circle cx="96.6" cy="620.0" r="2.05" fill="#000"/>
<circle cx="104.2" cy="637.5" r="2.05" fill="#000"/>
<circle cx="107.7" cy="633.1" r="2.05" fill="#000"/>
<circle cx="159.3" cy="627.0" r="2.05" fill="#000"/>
<circle cx="163.7" cy="620.0" r="2.05" fill="#000"/>
<circle cx="105.9" cy="643.5" r="2.05" fill="#000"/>
<line x1="355.7" y1="562.5" x2="355.7" y2="686" stroke="#444" stroke-width="1.3"/>
<line x1="352.6" y1="685.3" x2="504" y2="685.3" stroke="#444" stroke-width="1.3"/>
<line x1="359" y1="562.6" x2="503" y2="562.6" stroke="#000" stroke-width="1.5" stroke-dasharray="1.5 2.37"/>
<line x1="461.5" y1="564.5" x2="461.5" y2="684" stroke="#000" stroke-width="1.5" stroke-dasharray="1.5 2.37"/>
<line x1="352.8" y1="562.5" x2="355.7" y2="562.5" stroke="#444" stroke-width="1.2"/>
<line x1="352.8" y1="587.0" x2="355.7" y2="587.0" stroke="#444" stroke-width="1.2"/>
<line x1="352.8" y1="611.6" x2="355.7" y2="611.6" stroke="#444" stroke-width="1.2"/>
<line x1="352.8" y1="636.1" x2="355.7" y2="636.1" stroke="#444" stroke-width="1.2"/>
<line x1="352.8" y1="660.7" x2="355.7" y2="660.7" stroke="#444" stroke-width="1.2"/>
<line x1="352.8" y1="685.2" x2="355.7" y2="685.2" stroke="#444" stroke-width="1.2"/>
<line x1="355.0" y1="685.3" x2="355.0" y2="688.5" stroke="#444" stroke-width="1.2"/>
<line x1="376.3" y1="685.3" x2="376.3" y2="688.5" stroke="#444" stroke-width="1.2"/>
<line x1="397.6" y1="685.3" x2="397.6" y2="688.5" stroke="#444" stroke-width="1.2"/>
<line x1="418.9" y1="685.3" x2="418.9" y2="688.5" stroke="#444" stroke-width="1.2"/>
<line x1="440.2" y1="685.3" x2="440.2" y2="688.5" stroke="#444" stroke-width="1.2"/>
<line x1="461.5" y1="685.3" x2="461.5" y2="688.5" stroke="#444" stroke-width="1.2"/>
<line x1="482.8" y1="685.3" x2="482.8" y2="688.5" stroke="#444" stroke-width="1.2"/>
<line x1="504.1" y1="685.3" x2="504.1" y2="688.5" stroke="#444" stroke-width="1.2"/>
<path d="M446.9,593.5 L443.9,596.8 L441.2,600.5 L440.1,606.0 L439.9,611.5 L436.8,613.5 L433.1,615.5 L432.7,620.7 L432.6,626.8 L432.0,632.2 L433.2,636.8 L435.8,639.4 L437.3,642.4 L442.7,645.2 L451.0,646.6 L457.9,645.2 L462.7,642.4 L464.7,638.2 L465.4,632.1 L465.7,626.8 L464.6,621.6 L465.1,616.5 L463.4,612.1 L461.3,608.6 L459.6,604.1 L461.2,599.4 L458.5,597.6 L454.5,594.4 Z" fill="#000"/>
<circle cx="446.0" cy="594.9" r="2.05" fill="#000"/>
<circle cx="442.6" cy="599.2" r="2.05" fill="#000"/>
<circle cx="441.2" cy="600.9" r="2.05" fill="#000"/>
<circle cx="440.7" cy="604.0" r="2.05" fill="#000"/>
<circle cx="439.9" cy="606.8" r="2.05" fill="#000"/>
<circle cx="439.6" cy="609.5" r="2.05" fill="#000"/>
<circle cx="439.7" cy="612.0" r="2.05" fill="#000"/>
<circle cx="436.7" cy="613.4" r="2.05" fill="#000"/>
<circle cx="432.8" cy="616.1" r="2.05" fill="#000"/>
<circle cx="432.6" cy="619.3" r="2.05" fill="#000"/>
<circle cx="433.0" cy="622.4" r="2.05" fill="#000"/>
<circle cx="432.6" cy="625.7" r="2.05" fill="#000"/>
<circle cx="432.9" cy="627.3" r="2.05" fill="#000"/>
<circle cx="432.5" cy="630.9" r="2.05" fill="#000"/>
<circle cx="432.0" cy="632.9" r="2.05" fill="#000"/>
<circle cx="433.2" cy="636.9" r="2.05" fill="#000"/>
<circle cx="436.0" cy="639.3" r="2.05" fill="#000"/>
<circle cx="438.0" cy="642.6" r="2.05" fill="#000"/>
<circle cx="440.5" cy="644.2" r="2.05" fill="#000"/>
<circle cx="443.2" cy="644.8" r="2.05" fill="#000"/>
<circle cx="447.0" cy="645.5" r="2.05" fill="#000"/>
<circle cx="449.4" cy="646.4" r="2.05" fill="#000"/>
<circle cx="450.7" cy="646.3" r="2.05" fill="#000"/>
<circle cx="456.2" cy="645.7" r="2.05" fill="#000"/>
<circle cx="459.6" cy="644.3" r="2.05" fill="#000"/>
<circle cx="460.8" cy="643.7" r="2.05" fill="#000"/>
<circle cx="463.0" cy="642.4" r="2.05" fill="#000"/>
<circle cx="464.5" cy="637.0" r="2.05" fill="#000"/>
<circle cx="464.9" cy="635.1" r="2.05" fill="#000"/>
<circle cx="465.4" cy="631.0" r="2.05" fill="#000"/>
<circle cx="465.5" cy="628.4" r="2.05" fill="#000"/>
<circle cx="465.3" cy="626.2" r="2.05" fill="#000"/>
<circle cx="465.3" cy="622.8" r="2.05" fill="#000"/>
<circle cx="465.0" cy="621.4" r="2.05" fill="#000"/>
<circle cx="464.5" cy="615.5" r="2.05" fill="#000"/>
<circle cx="462.3" cy="610.3" r="2.05" fill="#000"/>
<circle cx="461.5" cy="608.1" r="2.05" fill="#000"/>
<circle cx="460.4" cy="602.4" r="2.05" fill="#000"/>
<circle cx="460.4" cy="598.7" r="2.05" fill="#000"/>
<circle cx="456.3" cy="596.0" r="2.05" fill="#000"/>
<circle cx="454.4" cy="594.2" r="2.05" fill="#000"/>
<circle cx="450.1" cy="594.1" r="2.05" fill="#000"/>
<circle cx="459.0" cy="571.3" r="2.05" fill="#000"/>
<circle cx="442.0" cy="589.0" r="2.05" fill="#000"/>
<circle cx="454.7" cy="592.5" r="2.05" fill="#000"/>
<circle cx="464.6" cy="593.1" r="2.05" fill="#000"/>
<circle cx="437.8" cy="595.2" r="2.05" fill="#000"/>
<circle cx="435.4" cy="599.5" r="2.05" fill="#000"/>
<circle cx="434.5" cy="603.2" r="2.05" fill="#000"/>
<circle cx="431.1" cy="606.1" r="2.05" fill="#000"/>
<circle cx="425.0" cy="613.0" r="2.05" fill="#000"/>
<circle cx="430.2" cy="612.7" r="2.05" fill="#000"/>
<circle cx="428.3" cy="618.0" r="2.05" fill="#000"/>
<circle cx="426.9" cy="629.1" r="2.05" fill="#000"/>
<circle cx="422.1" cy="636.9" r="2.05" fill="#000"/>
<circle cx="430.2" cy="635.0" r="2.05" fill="#000"/>
<circle cx="462.9" cy="605.1" r="2.05" fill="#000"/>
<circle cx="467.2" cy="607.3" r="2.05" fill="#000"/>
<circle cx="470.0" cy="612.7" r="2.05" fill="#000"/>
<circle cx="473.8" cy="616.8" r="2.05" fill="#000"/>
<circle cx="468.9" cy="629.3" r="2.05" fill="#000"/>
<circle cx="436.2" cy="651.4" r="2.05" fill="#000"/>
<circle cx="436.5" cy="646.0" r="2.05" fill="#000"/>
<circle cx="443.1" cy="651.4" r="2.05" fill="#000"/>
<circle cx="445.3" cy="654.7" r="2.05" fill="#000"/>
<circle cx="450.1" cy="655.2" r="2.05" fill="#000"/>
<circle cx="450.1" cy="659.1" r="2.05" fill="#000"/>
<circle cx="455.9" cy="654.3" r="2.05" fill="#000"/>
<circle cx="455.9" cy="658.8" r="2.05" fill="#000"/>
<circle cx="462.3" cy="652.3" r="2.05" fill="#000"/>
<circle cx="455.9" cy="667.9" r="2.05" fill="#000"/>
<circle cx="454.7" cy="671.5" r="2.05" fill="#000"/>
<circle cx="466.4" cy="637.2" r="2.05" fill="#000"/>
<circle cx="463.5" cy="645.3" r="2.05" fill="#000"/>
<circle cx="428.5" cy="618.2" r="2.05" fill="#000"/>
<circle cx="429.9" cy="613.1" r="2.05" fill="#000"/>
<circle cx="426.7" cy="629.2" r="2.05" fill="#000"/>
<g filter="url(#gs)">
<text x="10.7" y="11.9" font-size="16.8" textLength="12.9" lengthAdjust="spacingAndGlyphs" font-weight="bold" fill="#000">A</text>
<text x="34.6" y="197.9" font-size="10.8" text-anchor="end" fill="#1a1a1a" stroke="#1a1a1a" stroke-width="0.22">2</text>
<text x="34.6" y="173.85" font-size="10.8" text-anchor="end" fill="#1a1a1a" stroke="#1a1a1a" stroke-width="0.22">3</text>
<text x="34.6" y="151.3" font-size="10.8" text-anchor="end" fill="#1a1a1a" stroke="#1a1a1a" stroke-width="0.22">4</text>
<text x="34.6" y="126.35" font-size="10.8" text-anchor="end" fill="#1a1a1a" stroke="#1a1a1a" stroke-width="0.22">5</text>
<text x="34.6" y="101.15" font-size="10.8" text-anchor="end" fill="#1a1a1a" stroke="#1a1a1a" stroke-width="0.22">6</text>
<text x="34.6" y="81.15" font-size="10.8" text-anchor="end" fill="#1a1a1a" stroke="#1a1a1a" stroke-width="0.22">7</text>
<text x="34.6" y="54.7" font-size="10.8" text-anchor="end" fill="#1a1a1a" stroke="#1a1a1a" stroke-width="0.22">8</text>
<text x="47.1" y="223.6" font-size="9.6" text-anchor="middle" fill="#1a1a1a" stroke="#1a1a1a" stroke-width="0.22">0</text>
<text x="81.4" y="223.6" font-size="9.6" text-anchor="middle" fill="#1a1a1a" stroke="#1a1a1a" stroke-width="0.22">1</text>
<text x="115.7" y="223.6" font-size="9.6" text-anchor="middle" fill="#1a1a1a" stroke="#1a1a1a" stroke-width="0.22">2</text>
<text x="150.0" y="223.6" font-size="9.6" text-anchor="middle" fill="#1a1a1a" stroke="#1a1a1a" stroke-width="0.22">3</text>
<text x="184.3" y="223.6" font-size="9.6" text-anchor="middle" fill="#1a1a1a" stroke="#1a1a1a" stroke-width="0.22">4</text>
<text x="41.2" y="240.4" font-size="11.65" textLength="165.5" lengthAdjust="spacingAndGlyphs" fill="#1a1a1a" stroke="#1a1a1a" stroke-width="0.22">WDR62 expression, log2 (TPM+1)</text>
<text transform="translate(22.6,200.7) rotate(-90)" x="0" y="0" font-size="11.44" textLength="153.6" lengthAdjust="spacingAndGlyphs" fill="#1a1a1a" stroke="#1a1a1a" stroke-width="0.22">TPX2 expression, log2 (TPM+1)</text>
<text x="85.0" y="179.4" font-size="9.57" textLength="77" lengthAdjust="spacingAndGlyphs" fill="#1a1a1a" stroke="#1a1a1a" stroke-width="0.22">Spearman’s Rho: 0.6</text>
<text x="85.0" y="190.3" font-size="9.57" textLength="30.2" lengthAdjust="spacingAndGlyphs" fill="#1a1a1a" stroke="#1a1a1a" stroke-width="0.22">P&lt;0.001</text>
<text x="232.6" y="11.8" font-size="16" font-weight="bold" fill="#000">B</text>
<text x="268.8" y="206.6" font-size="10.9" text-anchor="end" fill="#1a1a1a" stroke="#1a1a1a" stroke-width="0.22">0</text>
<text x="268.8" y="158.15" font-size="10.9" text-anchor="end" fill="#1a1a1a" stroke="#1a1a1a" stroke-width="0.22">2</text>
<text x="268.8" y="110.9" font-size="10.9" text-anchor="end" fill="#1a1a1a" stroke="#1a1a1a" stroke-width="0.22">4</text>
<text x="268.8" y="65.5" font-size="10.9" text-anchor="end" fill="#1a1a1a" stroke="#1a1a1a" stroke-width="0.22">6</text>
<text x="282.4" y="225.4" font-size="10.4" text-anchor="middle" fill="#1a1a1a" stroke="#1a1a1a" stroke-width="0.22">0</text>
<text x="323.8" y="225.4" font-size="10.4" text-anchor="middle" fill="#1a1a1a" stroke="#1a1a1a" stroke-width="0.22">1</text>
<text x="365.2" y="225.4" font-size="10.4" text-anchor="middle" fill="#1a1a1a" stroke="#1a1a1a" stroke-width="0.22">2</text>
<text x="406.6" y="225.4" font-size="10.4" text-anchor="middle" fill="#1a1a1a" stroke="#1a1a1a" stroke-width="0.22">3</text>
<text x="448.0" y="225.4" font-size="10.4" text-anchor="middle" fill="#1a1a1a" stroke="#1a1a1a" stroke-width="0.22">4</text>
<text x="289.0" y="243.2" font-size="12.69" textLength="185" lengthAdjust="spacingAndGlyphs" fill="#1a1a1a" stroke="#1a1a1a" stroke-width="0.22">WDR62 expression, log2 (TPM+1)</text>
<text transform="translate(257.6,215.3) rotate(-90)" x="0" y="0" font-size="11.65" textLength="181.4" lengthAdjust="spacingAndGlyphs" fill="#1a1a1a" stroke="#1a1a1a" stroke-width="0.22">AURKA expression, log2 (TPM+1)</text>
<text x="329.7" y="182.6" font-size="9.57" textLength="81.3" lengthAdjust="spacingAndGlyphs" fill="#1a1a1a" stroke="#1a1a1a" stroke-width="0.22">Spearman’s Rho: 0.55</text>
<text x="329.7" y="193.5" font-size="9.57" textLength="30" lengthAdjust="spacingAndGlyphs" fill="#1a1a1a" stroke="#1a1a1a" stroke-width="0.22">P&lt;0.001</text>
<text x="523.6" y="11.8" font-size="16.5" font-weight="bold" fill="#000">C</text>
<text x="561" y="45.7" font-size="9.98" textLength="32" lengthAdjust="spacingAndGlyphs" fill="#111" stroke="#111" stroke-width="0.22">WDR62</text>
<text x="634.6" y="40.6" font-size="9.57" textLength="48.8" lengthAdjust="spacingAndGlyphs" fill="#111" stroke="#111" stroke-width="0.22">IgG Control,</text>
<text x="634.6" y="51.7" font-size="9.57" textLength="26" lengthAdjust="spacingAndGlyphs" fill="#111" stroke="#111" stroke-width="0.22">50kDa</text>
<text x="514.4" y="80.7" font-size="9.57" textLength="24.4" lengthAdjust="spacingAndGlyphs" fill="#111" stroke="#111" stroke-width="0.22">TPX2,</text>
<text x="514.4" y="91.9" font-size="9.57" textLength="30.6" lengthAdjust="spacingAndGlyphs" fill="#111" stroke="#111" stroke-width="0.22">100kDa</text>
<text x="514.2" y="151.3" font-size="9.57" textLength="33.8" lengthAdjust="spacingAndGlyphs" fill="#111" stroke="#111" stroke-width="0.22">AURKA,</text>
<text x="514.2" y="162.5" font-size="9.57" textLength="26" lengthAdjust="spacingAndGlyphs" fill="#111" stroke="#111" stroke-width="0.22">48kDa</text>
<text x="7.9" y="291.7" font-size="16.2" font-weight="bold" fill="#000">D</text>
<text transform="translate(62.6,336.9) rotate(-90)" x="0" y="0" font-size="9.78" textLength="25.6" lengthAdjust="spacingAndGlyphs" fill="#111" stroke="#111" stroke-width="0.22">sgNC</text>
<text transform="translate(77.5,336.9) rotate(-90)" x="0" y="0" font-size="9.78" textLength="48.3" lengthAdjust="spacingAndGlyphs" fill="#111" stroke="#111" stroke-width="0.22">sgWDR62</text>
<text transform="translate(92.8,335.8) rotate(-90)" x="0" y="0" font-size="9.78" textLength="25.6" lengthAdjust="spacingAndGlyphs" fill="#111" stroke="#111" stroke-width="0.22">sgNC</text>
<text transform="translate(108.3,336.9) rotate(-90)" x="0" y="0" font-size="9.78" textLength="48.3" lengthAdjust="spacingAndGlyphs" fill="#111" stroke="#111" stroke-width="0.22">sgWDR62</text>
<text x="122.1" y="353.9" font-size="9.36" textLength="31.2" lengthAdjust="spacingAndGlyphs" fill="#111" stroke="#111" stroke-width="0.22">WDR62,</text>
<text x="122.1" y="364.9" font-size="9.36" textLength="27.6" lengthAdjust="spacingAndGlyphs" fill="#111" stroke="#111" stroke-width="0.22">180kDa</text>
<text x="123" y="381.8" font-size="9.36" textLength="21.9" lengthAdjust="spacingAndGlyphs" fill="#111" stroke="#111" stroke-width="0.22">TPX2,</text>
<text x="123" y="393" font-size="9.36" textLength="27.2" lengthAdjust="spacingAndGlyphs" fill="#111" stroke="#111" stroke-width="0.22">100kDa</text>
<text x="124.3" y="418.6" font-size="9.36" textLength="30.2" lengthAdjust="spacingAndGlyphs" fill="#111" stroke="#111" stroke-width="0.22">AURKA,</text>
<text x="124.3" y="429.9" font-size="9.36" textLength="23.6" lengthAdjust="spacingAndGlyphs" fill="#111" stroke="#111" stroke-width="0.22">48kDa</text>
<text x="122.5" y="451.7" font-size="9.36" textLength="30.8" lengthAdjust="spacingAndGlyphs" fill="#111" stroke="#111" stroke-width="0.22">GAPDH,</text>
<text x="122.5" y="462.8" font-size="9.36" textLength="22.7" lengthAdjust="spacingAndGlyphs" fill="#111" stroke="#111" stroke-width="0.22">37kDa</text>
<text x="56.7" y="476.7" font-size="9.15" textLength="22.4" lengthAdjust="spacingAndGlyphs" fill="#111" stroke="#111" stroke-width="0.22">C42Bi</text>
<text x="87.6" y="476.7" font-size="9.15" textLength="28.4" lengthAdjust="spacingAndGlyphs" fill="#111" stroke="#111" stroke-width="0.22">LNCaPi</text>
<text x="335.9" y="291.7" font-size="16.2" font-weight="bold" fill="#000">E</text>
<text transform="translate(354.8,361.1) rotate(-90)" x="0" y="0" font-size="9.98" textLength="26.0" lengthAdjust="spacingAndGlyphs" fill="#111" stroke="#111" stroke-width="0.22">sgNC</text>
<text transform="translate(370.2,361.1) rotate(-90)" x="0" y="0" font-size="9.98" textLength="48.3" lengthAdjust="spacingAndGlyphs" fill="#111" stroke="#111" stroke-width="0.22">sgWDR62</text>
<text transform="translate(390.6,359.4) rotate(-90)" x="0" y="0" font-size="9.98" textLength="26.0" lengthAdjust="spacingAndGlyphs" fill="#111" stroke="#111" stroke-width="0.22">sgNC</text>
<text transform="translate(407.0,361.1) rotate(-90)" x="0" y="0" font-size="9.98" textLength="48.3" lengthAdjust="spacingAndGlyphs" fill="#111" stroke="#111" stroke-width="0.22">sgWDR62</text>
<text transform="translate(442.8,362.0) rotate(-90)" x="0" y="0" font-size="9.98" textLength="26.0" lengthAdjust="spacingAndGlyphs" fill="#111" stroke="#111" stroke-width="0.22">sgNC</text>
<text transform="translate(457.8,362.0) rotate(-90)" x="0" y="0" font-size="9.98" textLength="48.3" lengthAdjust="spacingAndGlyphs" fill="#111" stroke="#111" stroke-width="0.22">sgWDR62</text>
<text transform="translate(476.2,361.2) rotate(-90)" x="0" y="0" font-size="9.98" textLength="26.0" lengthAdjust="spacingAndGlyphs" fill="#111" stroke="#111" stroke-width="0.22">sgNC</text>
<text transform="translate(494.0,362.0) rotate(-90)" x="0" y="0" font-size="9.98" textLength="48.3" lengthAdjust="spacingAndGlyphs" fill="#111" stroke="#111" stroke-width="0.22">sgWDR62</text>
<text x="341.4" y="449.9" font-size="9.36" textLength="28" lengthAdjust="spacingAndGlyphs" fill="#111" stroke="#111" stroke-width="0.22">LNCaPi</text>
<text x="380.8" y="449.9" font-size="9.36" textLength="22.2" lengthAdjust="spacingAndGlyphs" fill="#111" stroke="#111" stroke-width="0.22">C42Bi</text>
<text x="430.0" y="450.0" font-size="9.36" textLength="28.5" lengthAdjust="spacingAndGlyphs" fill="#111" stroke="#111" stroke-width="0.22">LNCaPi</text>
<text x="470.9" y="450.0" font-size="9.36" textLength="22.2" lengthAdjust="spacingAndGlyphs" fill="#111" stroke="#111" stroke-width="0.22">C42Bi</text>
<text x="352.6" y="474.4" font-size="9.78" textLength="26" lengthAdjust="spacingAndGlyphs" fill="#111" stroke="#111" stroke-width="0.22">DMSO</text>
<text x="447.4" y="474.7" font-size="9.78" textLength="28.2" lengthAdjust="spacingAndGlyphs" fill="#111" stroke="#111" stroke-width="0.22">MG132</text>
<text x="422.0" y="487.3" font-size="9.78" textLength="84.2" lengthAdjust="spacingAndGlyphs" fill="#111" stroke="#111" stroke-width="0.22">(proteasome inhibitor)</text>
<text x="522.2" y="378.9" font-size="9.36" textLength="30.3" lengthAdjust="spacingAndGlyphs" fill="#111" stroke="#111" stroke-width="0.22">AURKA,</text>
<text x="522.2" y="390.5" font-size="9.36" textLength="23.7" lengthAdjust="spacingAndGlyphs" fill="#111" stroke="#111" stroke-width="0.22">48kDa</text>
<text x="520.1" y="411.6" font-size="9.36" textLength="31.1" lengthAdjust="spacingAndGlyphs" fill="#111" stroke="#111" stroke-width="0.22">GAPDH,</text>
<text x="520.1" y="422.6" font-size="9.36" textLength="22.9" lengthAdjust="spacingAndGlyphs" fill="#111" stroke="#111" stroke-width="0.22">37kDa</text>
<text x="-0.9" y="542.5" font-size="16.4" font-weight="bold" fill="#000">F</text>
<text x="54.0" y="560.9" font-size="9.36" text-anchor="end" textLength="10.5" lengthAdjust="spacingAndGlyphs" fill="#1a1a1a" stroke="#1a1a1a" stroke-width="0.22">0.0</text>
<text x="54.0" y="586.5" font-size="9.36" text-anchor="end" textLength="13.2" lengthAdjust="spacingAndGlyphs" fill="#1a1a1a" stroke="#1a1a1a" stroke-width="0.22">-0.5</text>
<text x="54.0" y="612.1" font-size="9.36" text-anchor="end" textLength="13.2" lengthAdjust="spacingAndGlyphs" fill="#1a1a1a" stroke="#1a1a1a" stroke-width="0.22">-1.0</text>
<text x="54.0" y="637.6" font-size="9.36" text-anchor="end" textLength="13.2" lengthAdjust="spacingAndGlyphs" fill="#1a1a1a" stroke="#1a1a1a" stroke-width="0.22">-1.5</text>
<text x="54.0" y="663.2" font-size="9.36" text-anchor="end" textLength="13.2" lengthAdjust="spacingAndGlyphs" fill="#1a1a1a" stroke="#1a1a1a" stroke-width="0.22">-2.0</text>
<text x="54.0" y="688.8" font-size="9.36" text-anchor="end" textLength="13.2" lengthAdjust="spacingAndGlyphs" fill="#1a1a1a" stroke="#1a1a1a" stroke-width="0.22">-2.5</text>
<text x="55.7" y="698.3" font-size="9.78" text-anchor="middle" textLength="13.4" lengthAdjust="spacingAndGlyphs" fill="#1a1a1a" stroke="#1a1a1a" stroke-width="0.22">-2.5</text>
<text x="86.2" y="698.3" font-size="9.78" text-anchor="middle" textLength="13.4" lengthAdjust="spacingAndGlyphs" fill="#1a1a1a" stroke="#1a1a1a" stroke-width="0.22">-2.0</text>
<text x="116.7" y="698.3" font-size="9.78" text-anchor="middle" textLength="13.4" lengthAdjust="spacingAndGlyphs" fill="#1a1a1a" stroke="#1a1a1a" stroke-width="0.22">-1.5</text>
<text x="147.2" y="698.3" font-size="9.78" text-anchor="middle" textLength="13.4" lengthAdjust="spacingAndGlyphs" fill="#1a1a1a" stroke="#1a1a1a" stroke-width="0.22">-1.0</text>
<text x="177.7" y="698.3" font-size="9.78" text-anchor="middle" textLength="13.4" lengthAdjust="spacingAndGlyphs" fill="#1a1a1a" stroke="#1a1a1a" stroke-width="0.22">-0.5</text>
<text x="209.0" y="698.3" font-size="9.78" text-anchor="middle" textLength="11" lengthAdjust="spacingAndGlyphs" fill="#1a1a1a" stroke="#1a1a1a" stroke-width="0.22">0.0</text>
<text transform="translate(22.2,661.6) rotate(-90)" x="0" y="0" font-size="9.36" textLength="83.4" lengthAdjust="spacingAndGlyphs" fill="#1a1a1a" stroke="#1a1a1a" stroke-width="0.22">TPX2 Gene Effect (CERES)</text>
<text transform="translate(33.4,661.6) rotate(-90)" x="0" y="0" font-size="9.36" textLength="88.6" lengthAdjust="spacingAndGlyphs" fill="#1a1a1a" stroke="#1a1a1a" stroke-width="0.22">CRISPR (Avana) Public 20Q1</text>
<text x="88.1" y="716.5" font-size="9.36" textLength="89.9" lengthAdjust="spacingAndGlyphs" fill="#1a1a1a" stroke="#1a1a1a" stroke-width="0.22">AURKA Gene Effect (CERES)</text>
<text x="88.1" y="728.3" font-size="9.36" textLength="89.3" lengthAdjust="spacingAndGlyphs" fill="#1a1a1a" stroke="#1a1a1a" stroke-width="0.22">CRISPR (Avana) Public 20Q1</text>
<text x="59.2" y="573.2" font-size="10.4" textLength="62.4" lengthAdjust="spacingAndGlyphs" fill="#1a1a1a" stroke="#1a1a1a" stroke-width="0.22">Spearman: 0.441</text>
<text x="61.7" y="584.9" font-size="8.53" textLength="36.4" lengthAdjust="spacingAndGlyphs" fill="#1a1a1a" stroke="#1a1a1a" stroke-width="0.22">P: 5.96E-40</text>
<text x="321.6" y="536.6" font-size="16" font-weight="bold" fill="#000">G</text>
<text x="352.8" y="565.7" font-size="9.36" text-anchor="end" textLength="10.5" lengthAdjust="spacingAndGlyphs" fill="#1a1a1a" stroke="#1a1a1a" stroke-width="0.22">0.0</text>
<text x="352.8" y="590.2" font-size="9.36" text-anchor="end" textLength="13.2" lengthAdjust="spacingAndGlyphs" fill="#1a1a1a" stroke="#1a1a1a" stroke-width="0.22">-0.5</text>
<text x="352.8" y="614.8" font-size="9.36" text-anchor="end" textLength="13.2" lengthAdjust="spacingAndGlyphs" fill="#1a1a1a" stroke="#1a1a1a" stroke-width="0.22">-1.0</text>
<text x="352.8" y="639.4" font-size="9.36" text-anchor="end" textLength="13.2" lengthAdjust="spacingAndGlyphs" fill="#1a1a1a" stroke="#1a1a1a" stroke-width="0.22">-1.5</text>
<text x="352.8" y="663.9" font-size="9.36" text-anchor="end" textLength="13.2" lengthAdjust="spacingAndGlyphs" fill="#1a1a1a" stroke="#1a1a1a" stroke-width="0.22">-2.0</text>
<text x="352.8" y="688.5" font-size="9.36" text-anchor="end" textLength="13.2" lengthAdjust="spacingAndGlyphs" fill="#1a1a1a" stroke="#1a1a1a" stroke-width="0.22">-2.5</text>
<text x="354.2" y="697.6" font-size="9.78" text-anchor="middle" textLength="13.4" lengthAdjust="spacingAndGlyphs" fill="#1a1a1a" stroke="#1a1a1a" stroke-width="0.22">-2.5</text>
<text x="375.5" y="697.6" font-size="9.78" text-anchor="middle" textLength="13.4" lengthAdjust="spacingAndGlyphs" fill="#1a1a1a" stroke="#1a1a1a" stroke-width="0.22">-2.0</text>
<text x="396.8" y="697.6" font-size="9.78" text-anchor="middle" textLength="13.4" lengthAdjust="spacingAndGlyphs" fill="#1a1a1a" stroke="#1a1a1a" stroke-width="0.22">-1.5</text>
<text x="418.1" y="697.6" font-size="9.78" text-anchor="middle" textLength="13.4" lengthAdjust="spacingAndGlyphs" fill="#1a1a1a" stroke="#1a1a1a" stroke-width="0.22">-1.0</text>
<text x="439.4" y="697.6" font-size="9.78" text-anchor="middle" textLength="13.4" lengthAdjust="spacingAndGlyphs" fill="#1a1a1a" stroke="#1a1a1a" stroke-width="0.22">-0.5</text>
<text x="461.5" y="697.6" font-size="9.78" text-anchor="middle" textLength="11" lengthAdjust="spacingAndGlyphs" fill="#1a1a1a" stroke="#1a1a1a" stroke-width="0.22">0.0</text>
<text x="482.8" y="697.6" font-size="9.78" text-anchor="middle" textLength="11" lengthAdjust="spacingAndGlyphs" fill="#1a1a1a" stroke="#1a1a1a" stroke-width="0.22">0.5</text>
<text x="504.1" y="697.6" font-size="9.78" text-anchor="middle" textLength="11" lengthAdjust="spacingAndGlyphs" fill="#1a1a1a" stroke="#1a1a1a" stroke-width="0.22">1.0</text>
<text transform="translate(322.6,661.6) rotate(-90)" x="0" y="0" font-size="9.36" textLength="83.4" lengthAdjust="spacingAndGlyphs" fill="#1a1a1a" stroke="#1a1a1a" stroke-width="0.22">TPX2 Gene Effect (CERES)</text>
<text transform="translate(333.9,661.6) rotate(-90)" x="0" y="0" font-size="9.36" textLength="88.6" lengthAdjust="spacingAndGlyphs" fill="#1a1a1a" stroke="#1a1a1a" stroke-width="0.22">CRISPR (Avana) Public 20Q1</text>
<text x="382.2" y="714.4" font-size="9.36" textLength="90.4" lengthAdjust="spacingAndGlyphs" fill="#1a1a1a" stroke="#1a1a1a" stroke-width="0.22">WDR62 Gene Effect (CERES)</text>
<text x="382.2" y="726.0" font-size="9.36" textLength="89.3" lengthAdjust="spacingAndGlyphs" fill="#1a1a1a" stroke="#1a1a1a" stroke-width="0.22">CRISPR (Avana) Public 20Q1</text>
<text x="361.3" y="575.9" font-size="10.4" textLength="64" lengthAdjust="spacingAndGlyphs" fill="#1a1a1a" stroke="#1a1a1a" stroke-width="0.22">Spearman: -0.013</text>
<text x="361.3" y="587.7" font-size="10.4" textLength="29.8" lengthAdjust="spacingAndGlyphs" fill="#1a1a1a" stroke="#1a1a1a" stroke-width="0.22">P: 0.835</text>
</g>
</svg>
</body></html>
